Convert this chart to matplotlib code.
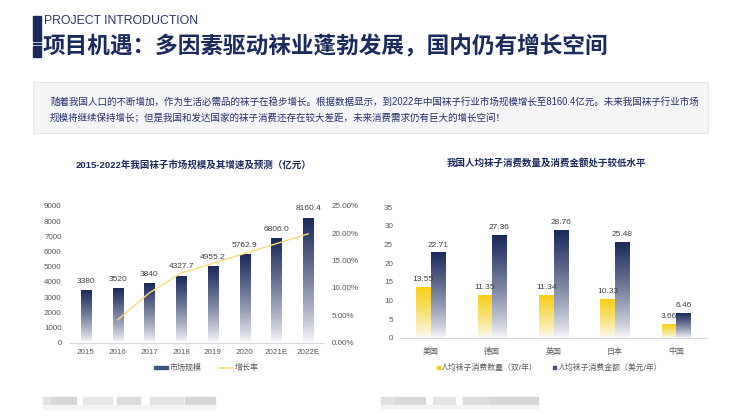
import numpy as np
import matplotlib
matplotlib.use("Agg")
import matplotlib.pyplot as plt
from matplotlib.colors import LinearSegmentedColormap
from matplotlib.patches import Rectangle
from matplotlib.lines import Line2D

plt.rcParams['font.family'] = ['Liberation Sans', 'Noto Sans CJK SC', 'DejaVu Sans']

# ---- datos ----
years = ["2015", "2016", "2017", "2018", "2019", "2020", "2021E", "2022E"]
market_size = [3380, 3520, 3840, 4327.7, 4955.2, 5762.9, 6806.0, 8160.4]
size_labels = ["3380", "3520", "3840", "4327.7", "4955.2", "5762.9", "6806.0", "8160.4"]
growth_years = ["2016", "2017", "2018", "2019", "2020", "2021E", "2022E"]
growth_rate = [4.14, 9.09, 12.70, 14.50, 16.30, 18.10, 19.90]

countries = ["美国", "德国", "英国", "日本", "中国"]
pairs_per_year = [13.55, 11.35, 11.34, 10.33, 3.66]
spend_per_year = [22.71, 27.36, 28.76, 25.48, 6.46]

NAVY = "#1b2a5c"
YELLOW = "#f8cf18"
GRAY_TXT = "#595959"
FS = 5.8
W, H = 745, 420

fig = plt.figure(figsize=(W / 100, H / 100), dpi=100)


def ft(x, y, s, **kw):
    return fig.text(x / W, 1 - y / H, s, **kw)


def px_axes(x0, y0, x1, y1):
    return fig.add_axes([x0 / W, 1 - y1 / H, (x1 - x0) / W, (y1 - y0) / H])


def frect(x0, y0, x1, y1, **kw):
    fig.patches.append(Rectangle((x0 / W, 1 - y1 / H), (x1 - x0) / W, (y1 - y0) / H,
                                 transform=fig.transFigure, figure=fig, **kw))


def gradient_bars(ax, bars, top_color):
    cmap = LinearSegmentedColormap.from_list("g", ["#fbfbfd", top_color])
    grad = np.linspace(1, 0, 256).reshape(-1, 1) ** 0.8
    for b in bars:
        x0, w, h = b.get_x(), b.get_width(), b.get_height()
        ax.imshow(grad, extent=[x0, x0 + w, 0, h], aspect="auto", cmap=cmap,
                  vmin=0, vmax=1, zorder=2)


def style_ax(ax):
    for s in ["top", "right", "left"]:
        ax.spines[s].set_visible(False)
    ax.spines["bottom"].set_color("#d9d9d9")
    ax.tick_params(length=0, labelsize=FS, colors=GRAY_TXT)


# ---- cabecera ----
frect(33, 16, 41, 40.5, color=NAVY)
frect(33, 42.5, 41, 44, color=NAVY)
frect(33, 46, 41, 57, color=NAVY)
ft(44, 21.5, "PROJECT INTRODUCTION", fontsize=8.8, color="#2a3668", va="center")
ft(43, 46.5, "项目机遇：多因素驱动袜业蓬勃发展，国内仍有增长空间", fontsize=16.3,
   fontweight="bold", color=NAVY, va="center")

frect(33, 82, 708, 133, facecolor="#f5f5f7", edgecolor="#e4e4e8", linewidth=0.6)
ft(50, 102, "随着我国人口的不断增加，作为生活必需品的袜子在稳步增长。根据数据显示，到2022年中国袜子行业市场规模增长至8160.4亿元。未来我国袜子行业市场",
   fontsize=6.85, color="#24306a", va="center")
ft(50, 118, "规模将继续保持增长；但是我国和发达国家的袜子消费还存在较大差距，未来消费需求仍有巨大的增长空间！",
   fontsize=6.85, color="#24306a", va="center")

# ---- grafico izquierdo ----
ax1 = px_axes(70, 206, 324, 342.5)
x1 = np.arange(len(years))
bars1 = ax1.bar(x1, market_size, width=0.32, color="none", zorder=2)
gradient_bars(ax1, bars1, NAVY)
for xi, v, lab in zip(x1, market_size, size_labels):
    ax1.text(xi, v + 420, lab, ha="center", va="bottom", fontsize=FS + 0.2, color="#404040")
ax1.set_xlim(-0.5, len(years) - 0.5)
ax1.set_ylim(0, 9000)
ax1.set_yticks(range(0, 9001, 1000))
ax1.set_xticks(x1)
ax1.set_xticklabels(years)
style_ax(ax1)
ax1.tick_params(axis="x", pad=5)
ax1.tick_params(axis="y", pad=6)

ax1b = ax1.twinx()
gx = [years.index(y) for y in growth_years]
ax1b.plot(gx, growth_rate, color="#f9dc7a", linewidth=1.0, zorder=3)
ax1b.set_ylim(0, 25)
ax1b.set_yticks(range(0, 26, 5))
ax1b.set_yticklabels([f"{t:.2f}%" for t in range(0, 26, 5)])
for s in ["top", "right", "left", "bottom"]:
    ax1b.spines[s].set_visible(False)
ax1b.tick_params(length=0, labelsize=FS, colors=GRAY_TXT, pad=5.5)

ft(194, 165, "2015-2022年我国袜子市场规模及其增速及预测（亿元）", fontsize=6.8,
   fontweight="bold", color=NAVY, ha="center", va="center")

# leyenda izquierda
frect(154, 366, 168, 369, color="#3f4f80")
ft(170, 367.5, "市场规模", fontsize=5.8, color=GRAY_TXT, va="center")
fig.lines.append(Line2D([219 / W, 233 / W], [1 - 367.5 / H] * 2, transform=fig.transFigure,
                        color="#f9dc7a", linewidth=1.2))
ft(235, 367.5, "增长率", fontsize=5.8, color=GRAY_TXT, va="center")

# ---- grafico derecho ----
ax2 = px_axes(400, 207, 707, 338)
x2 = np.arange(len(countries))
bw = 0.236
bars_a = ax2.bar(x2 - bw / 2, pairs_per_year, width=bw, color="none", zorder=2)
bars_b = ax2.bar(x2 + bw / 2, spend_per_year, width=bw, color="none", zorder=2)
gradient_bars(ax2, bars_a, YELLOW)
gradient_bars(ax2, bars_b, NAVY)
for xi, v in zip(x2, pairs_per_year):
    ax2.text(xi - bw / 2, v + 1.2, f"{v:.2f}", ha="center", va="bottom", fontsize=FS + 0.2, color="#404040")
for xi, v in zip(x2, spend_per_year):
    ax2.text(xi + bw / 2, v + 1.2, f"{v:.2f}", ha="center", va="bottom", fontsize=FS + 0.2, color="#404040")
ax2.set_xlim(-0.5, len(countries) - 0.5)
ax2.set_ylim(0, 35)
ax2.set_yticks(range(0, 36, 5))
ax2.set_xticks(x2)
ax2.set_xticklabels(countries)
style_ax(ax2)
ax2.tick_params(axis="x", pad=7)
ax2.tick_params(axis="y", pad=5)

ft(546, 163, "我国人均袜子消费数量及消费金额处于较低水平", fontsize=6.8,
   fontweight="bold", color=NAVY, ha="center", va="center")

frect(437, 366, 440, 369, color=YELLOW)
ft(441, 367.5, "人均袜子消费数量（双/年）", fontsize=5.7, color=GRAY_TXT, va="center")
frect(553, 366, 556, 369, color="#3f4f80")
ft(558, 367.5, "人均袜子消费金额（美元/年）", fontsize=5.7, color=GRAY_TXT, va="center")

# ---- notas de fuente difuminadas ----
for x0, x1_, c in [(43, 50, "#e2e2e2"), (51, 76, "#d6d6d6"), (83, 112, "#e6e6e6"),
                   (117, 140, "#dcdcdc"), (150, 183, "#e3e3e3"), (185, 215, "#d6d6d6"),
                   (381, 395, "#e0e0e0"), (395, 425, "#d8d8d8"), (433, 455, "#e4e4e4"),
                   (463, 490, "#dcdcdc"), (490, 538, "#d6d6d6")]:
    frect(x0, 397, x1_, 405, color=c)
frect(43, 405, 215, 409, color="#f3f3f3")
frect(381, 405, 538, 408, color="#f3f3f3")

fig.savefig("out.png", dpi=100)
